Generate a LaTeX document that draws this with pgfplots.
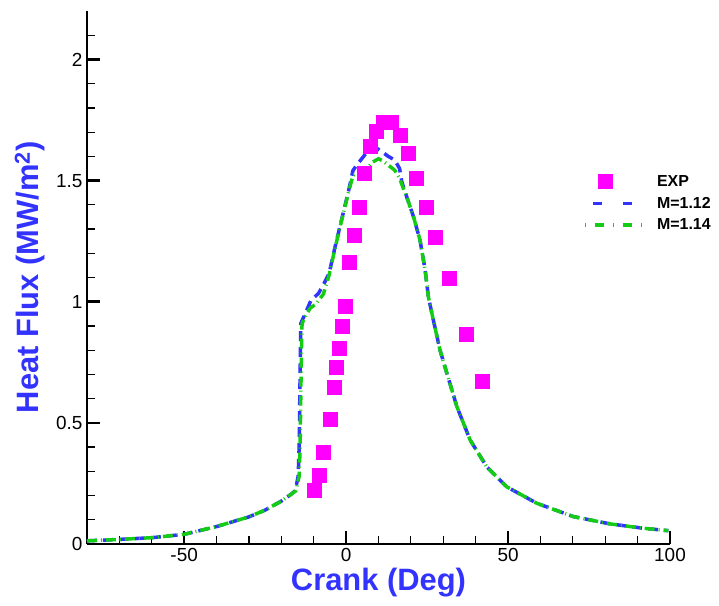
\documentclass[border=0pt]{standalone}
\usepackage{fontspec}
\setmainfont{Liberation Sans}
\usepackage{pgfplots}
\pgfplotsset{compat=1.18}
\definecolor{expmag}{RGB}{255,0,255}
\definecolor{mblue}{RGB}{51,51,255}
\definecolor{mgreen}{RGB}{20,204,20}
\begin{document}
\begin{tikzpicture}
\useasboundingbox (-87bp,-62bp) rectangle (632bp,544bp);
\begin{axis}[
  scale only axis, width=583bp, height=533bp,
  xmin=-80, xmax=100, ymin=0, ymax=2.2,
  axis x line=bottom, axis y line=left,
  axis line style={-, line width=2.5bp, black},
  xtick={-50,0,50,100},
  minor xtick={-70,-60,-40,-30,-20,-10,10,20,30,40,60,70,80,90},
  ytick={0,0.5,1,1.5,2},
  minor ytick={0.1,0.2,0.3,0.4,0.6,0.7,0.8,0.9,1.1,1.2,1.3,1.4,1.6,1.7,1.8,1.9,2.1},
  tick align=inside,
  major tick length=13bp, minor tick length=8bp,
  every major tick/.style={line width=2.5bp, black},
  every minor tick/.style={line width=1.2bp, black},
  ticklabel style={font=\fontsize{19}{19}\selectfont},
  /pgf/number format/assume math mode=true,
  xticklabel style={yshift=-1bp},
  yticklabel style={xshift=-1bp},
  xlabel={Crank (Deg)},
  ylabel={Heat Flux (MW/m\textsuperscript{2})},
  xlabel style={at={(axis description cs:0.5,-0.0675)}, anchor=center, yshift=-3bp, font=\bfseries\fontsize{31}{31}\selectfont, text=mblue},
  ylabel style={at={(axis description cs:-0.0978,0.5)}, anchor=center, font=\bfseries\fontsize{31}{31}\selectfont, text=mblue},
  legend style={at={(axis description cs:0.851,0.694)}, anchor=north west, draw=none, fill=none,
    font=\bfseries\fontsize{16}{16}\selectfont, row sep=8bp, column sep=0bp, inner sep=0pt,
    nodes={inner sep=0pt, text height=11.5bp, text depth=2bp}},
  legend cell align=left,
  clip=false,
]
\addplot[only marks, color=expmag, mark=square*, mark size=7bp, mark options={fill=expmag, draw=expmag, line width=0pt},
  legend image code/.code={\path[draw=none,fill=none] (0bp,0bp) -- (72bp,0bp); \fill[expmag] (13bp,-7bp) rectangle (27bp,7bp);}]
  coordinates {
  (-9.66,0.219) (-8.33,0.282) (-6.88,0.377) (-4.94,0.515) (-3.70,0.645)
  (-2.87,0.730) (-2.16,0.809) (-1.23,0.897) (-0.31,0.979) (1.14,1.161)
  (2.69,1.272) (4.23,1.388) (5.77,1.528) (7.62,1.640) (9.48,1.702)
  (11.5,1.740) (14.1,1.740) (16.9,1.685) (19.35,1.611) (21.8,1.508)
  (24.7,1.388) (27.7,1.264) (32.0,1.095) (37.3,0.863) (42.0,0.669)
  };
\addlegendentry{EXP}
\addplot[mblue, line width=3.5bp, dash pattern=on 10bp off 6bp,
  legend image code/.code={\path[draw=none,fill=none] (0bp,0bp) -- (72bp,0bp); \draw[mblue, line width=3.5bp, dash pattern=on 9bp off 21bp] (8bp,0) -- (50bp,0);}]
  coordinates {
  (-80,0.013) (-70,0.019) (-60,0.026) (-50,0.040) (-40,0.072) (-30,0.112)
  (-25,0.140) (-20,0.177) (-17,0.205) (-15.7,0.220) (-14.8,0.28) (-14.5,0.40)
  (-14.3,0.6) (-14.1,0.8) (-14.0,0.91) (-12.6,0.952) (-10.9,1.004) (-8.5,1.035)
  (-7,1.07) (-5.25,1.117) (-3.4,1.227) (-1.3,1.344) (0.7,1.454) (2.1,1.541)
  (3.3,1.565) (4.1,1.578) (6,1.61) (8,1.628) (9.5,1.633) (11,1.62) (13,1.60)
  (15,1.585) (16.5,1.55) (17.2,1.495) (18.7,1.433) (20.8,1.351) (22.8,1.255)
  (24.4,1.131) (25.4,1.02) (27,0.92) (29,0.80) (31.1,0.705) (34.2,0.567)
  (38.3,0.429) (43.4,0.319) (49.6,0.236) (58.9,0.168) (70.2,0.113)
  (81.5,0.083) (91.8,0.065) (99.5,0.055)
  };
\addlegendentry{M=1.12}
\addplot[mgreen, line width=3.5bp, dash pattern=on 10bp off 4bp on 1bp off 4bp,
  legend image code/.code={\path[draw=none,fill=none] (0bp,0bp) -- (72bp,0bp); \draw[mgreen, line width=3.5bp, dash pattern=on 1bp off 9bp on 9bp off 9bp] (0bp,0) -- (57bp,0);}]
  coordinates {
  (-80,0.013) (-70,0.019) (-60,0.026) (-50,0.040) (-40,0.072) (-30,0.112)
  (-25,0.140) (-20,0.177) (-17,0.205) (-15.5,0.220) (-14.5,0.28) (-14.2,0.40)
  (-14.0,0.6) (-13.8,0.8) (-13.6,0.91) (-12.2,0.95) (-11,0.975) (-9.3,0.99)
  (-7,1.032) (-5.25,1.11) (-3.4,1.222) (-1.3,1.34) (0.7,1.45) (2.1,1.52)
  (3.6,1.533) (6.4,1.548) (8,1.575) (10,1.59) (11.5,1.58) (13,1.564)
  (15,1.543) (16.5,1.51) (17.6,1.47) (18.7,1.433) (20.8,1.351) (22.8,1.255)
  (24.4,1.131) (25.4,1.02) (27,0.92) (29,0.80) (31.1,0.705) (34.2,0.567)
  (38.3,0.429) (43.4,0.319) (49.6,0.236) (58.9,0.168) (70.2,0.113)
  (81.5,0.083) (91.8,0.065) (99.5,0.055)
  };
\addlegendentry{M=1.14}
\end{axis}
\end{tikzpicture}
\end{document}
